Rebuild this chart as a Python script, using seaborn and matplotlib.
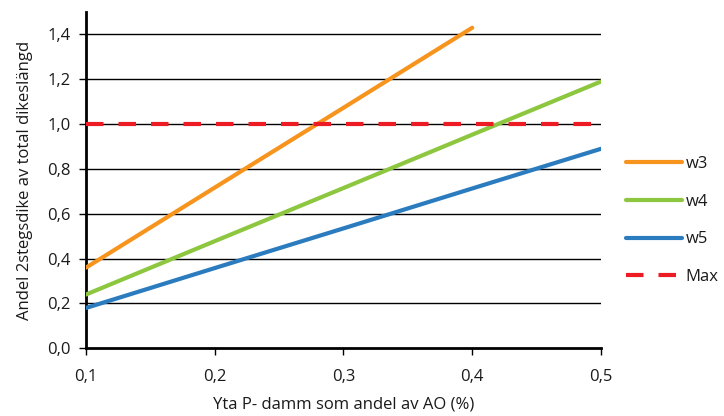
import matplotlib
matplotlib.use("Agg")
import matplotlib.pyplot as plt
import seaborn as sns
import pandas as pd

# Share of pond area relative to the catchment (x) and required share of two-stage ditch (y)
x_vals = [0.1, 0.2, 0.3, 0.4, 0.5]
w3 = [0.36, 0.717, 1.073, 1.43, None]
w4 = [0.24, 0.478, 0.715, 0.953, 1.19]
w5 = [0.18, 0.358, 0.535, 0.713, 0.89]
max_line = [1.0, 1.0, 1.0, 1.0, 1.0]

series_names = ["w3", "w4", "w5", "Max"]
series_colors = ["#F7941D", "#8DC63F", "#2B7BBF", "#ED1C24"]

y_ticks = [0.0, 0.2, 0.4, 0.6, 0.8, 1.0, 1.2, 1.4]
y_ticklabels = ["0,0", "0,2", "0,4", "0,6", "0,8", "1,0", "1,2", "1,4"]
x_ticks = [0.1, 0.2, 0.3, 0.4, 0.5]
x_ticklabels = ["0,1", "0,2", "0,3", "0,4", "0,5"]

sns.set_theme(style="white")
plt.rcParams["font.family"] = ["Open Sans", "DejaVu Sans"]

fig = plt.figure(figsize=(7.24, 4.16), dpi=100)
ax = fig.add_axes([0.1188, 0.1627, 0.7112, 0.8083])

frames = []
for name, vals in zip(series_names, [w3, w4, w5, max_line]):
    frames.append(pd.DataFrame({"x": x_vals, "y": vals, "serie": name}))
df = pd.concat(frames, ignore_index=True).dropna()

# horizontal gridlines behind the data
for yt in y_ticks[1:]:
    ax.axhline(yt, color="black", lw=1.0, zorder=1)

sns.lineplot(
    data=df, x="x", y="y", hue="serie", style="serie",
    palette=dict(zip(series_names, series_colors)),
    dashes={"w3": "", "w4": "", "w5": "", "Max": (4.2, 3.6)},
    linewidth=3.0, ax=ax, legend=True, zorder=3,
)
for line in ax.get_lines():
    line.set_solid_capstyle("round")

ax.set_xlim(0.1, 0.5)
ax.set_ylim(0.0, 1.5)
ax.set_xticks(x_ticks)
ax.set_xticklabels(x_ticklabels)
ax.set_yticks(y_ticks)
ax.set_yticklabels(y_ticklabels)
ax.tick_params(axis="both", which="major", direction="out", length=5, width=1.0,
               color="black", labelsize=12, labelcolor="#1a1a1a", pad=6,
               bottom=True, left=True)
ax.tick_params(axis="x", pad=10)

for side in ["top", "right"]:
    ax.spines[side].set_visible(False)
for side in ["left", "bottom"]:
    ax.spines[side].set_color("black")
    ax.spines[side].set_linewidth(2.0)

ax.set_xlabel("Yta P- damm som andel av AO (%)", fontsize=12, color="#1a1a1a", labelpad=8)
ax.set_ylabel("Andel 2stegsdike av total dikeslängd", fontsize=12, color="#1a1a1a", labelpad=10)

handles, labels = ax.get_legend_handles_labels()
leg = ax.legend(handles, labels, loc="center left", bbox_to_anchor=(1.035, 0.38),
                frameon=False, fontsize=12, handlelength=3.4, labelspacing=1.3,
                handletextpad=0.2, borderaxespad=0)
for t in leg.get_texts():
    t.set_color("#1a1a1a")

fig.savefig("out.png", dpi=100)
